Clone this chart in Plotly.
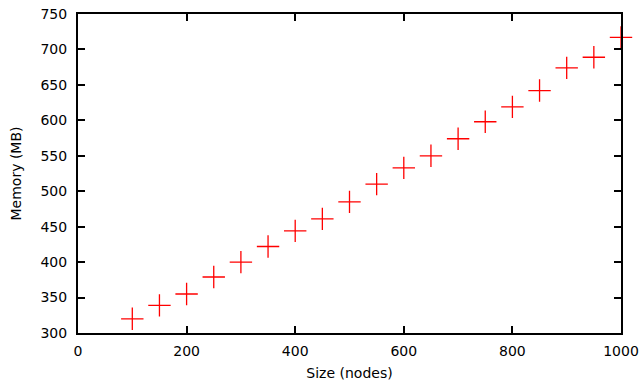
import plotly.graph_objects as go

size_nodes = [100, 150, 200, 250, 300, 350, 400, 450, 500, 550,
              600, 650, 700, 750, 800, 850, 900, 950, 1000]
memory_mb = [320, 339, 355, 379, 400, 422, 444, 461, 485, 510,
             533, 550, 574, 598, 619, 642, 674, 689, 717]

fig = go.Figure(go.Scatter(
    x=size_nodes, y=memory_mb, mode="markers",
    marker=dict(symbol="cross-thin", size=16, color="red",
                line=dict(color="red", width=1.3)),
    showlegend=False, cliponaxis=False,
))

axis_common = dict(
    showline=True, linecolor="black", linewidth=2, mirror="ticks",
    ticks="inside", ticklen=7, tickwidth=1.5, tickcolor="black",
    showgrid=False, zeroline=False, automargin=False,
    tickfont=dict(family="DejaVu Sans", size=14, color="black"),
)

fig.update_layout(
    width=643, height=381,
    margin=dict(l=78, r=22, t=14, b=48),
    paper_bgcolor="white", plot_bgcolor="white",
    font=dict(family="DejaVu Sans", size=14, color="black"),
    xaxis=dict(range=[0, 1000], dtick=200, ticklabelstandoff=4,
               title=dict(text="Size (nodes)", standoff=13,
                          font=dict(family="DejaVu Sans", size=14)),
               **axis_common),
    yaxis=dict(range=[300, 750], dtick=50, ticklabelstandoff=6,
               title=dict(text="Memory (MB)", standoff=16,
                          font=dict(family="DejaVu Sans", size=14)),
               **axis_common),
)

fig.write_html("out.html", config={"displayModeBar": False},
               post_script="document.body.style.margin='0';")
